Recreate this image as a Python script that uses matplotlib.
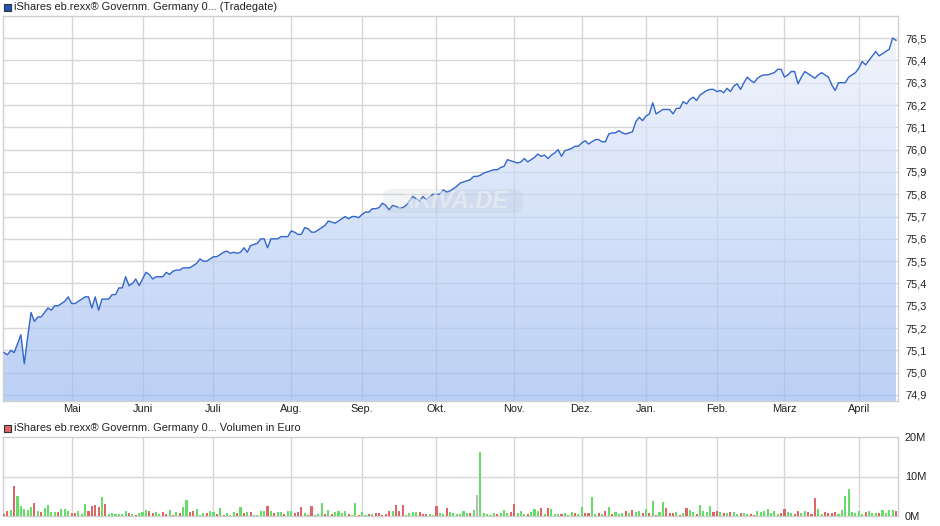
import matplotlib
matplotlib.use("Agg")
import matplotlib.pyplot as plt
import numpy as np
from matplotlib.colors import LinearSegmentedColormap
from matplotlib.patches import Rectangle, FancyBboxPatch

plt.rcParams['font.family'] = ['Liberation Sans', 'DejaVu Sans']

# Kurs (Tradegate), ein Wert pro Handelstag
prices = [
    75.09, 75.08, 75.10, 75.09, 75.13, 75.17, 75.04, 75.16, 75.27, 75.23,
    75.25, 75.25, 75.27, 75.29, 75.28, 75.30, 75.30, 75.31, 75.32, 75.34,
    75.31, 75.31, 75.32, 75.33, 75.34, 75.34, 75.29, 75.34, 75.28, 75.33,
    75.33, 75.33, 75.35, 75.35, 75.38, 75.38, 75.43, 75.39, 75.40, 75.42,
    75.39, 75.42, 75.45, 75.44, 75.42, 75.43, 75.43, 75.43, 75.45,
    75.44, 75.455, 75.46, 75.46, 75.47, 75.47, 75.47, 75.48, 75.49, 75.51,
    75.50, 75.50, 75.51, 75.52, 75.52, 75.53, 75.54, 75.545, 75.535, 75.54,
    75.535, 75.54, 75.56, 75.54, 75.57, 75.575, 75.58, 75.60, 75.60, 75.56,
    75.60, 75.60, 75.60, 75.61, 75.61, 75.61, 75.635, 75.63, 75.62, 75.62,
    75.65, 75.645, 75.63, 75.63, 75.64, 75.65, 75.66, 75.68, 75.675, 75.67,
    75.68, 75.69, 75.70, 75.69, 75.70, 75.70, 75.695, 75.71, 75.72, 75.72,
    75.735, 75.735, 75.74, 75.76, 75.75, 75.73, 75.75, 75.745, 75.74, 75.74,
    75.75, 75.77, 75.79, 75.78, 75.77, 75.79, 75.775, 75.79, 75.80, 75.80,
    75.80, 75.82, 75.81, 75.815, 75.825, 75.835, 75.85, 75.855, 75.86, 75.865,
    75.88, 75.88, 75.885, 75.895, 75.90, 75.905, 75.91, 75.91, 75.92, 75.925,
    75.955, 75.95, 75.945, 75.94, 75.945, 75.96, 75.945, 75.955, 75.965, 75.98,
    75.97, 75.975, 75.96, 75.975, 75.985, 76.00, 75.97, 75.995, 76.00, 76.005,
    76.015, 76.015, 76.03, 76.04, 76.025, 76.035, 76.045, 76.045, 76.035, 76.035,
    76.07, 76.075, 76.075, 76.085, 76.075, 76.07, 76.075, 76.08, 76.125,
    76.145, 76.13, 76.15, 76.16, 76.21, 76.16, 76.17, 76.18, 76.18, 76.18,
    76.16, 76.185, 76.185, 76.215, 76.205, 76.225, 76.235, 76.22, 76.245, 76.255,
    76.265, 76.27, 76.27, 76.26, 76.265, 76.255, 76.275, 76.26, 76.285, 76.295,
    76.27, 76.30, 76.325, 76.31, 76.30, 76.32, 76.33, 76.335, 76.335, 76.34,
    76.345, 76.36, 76.36, 76.325, 76.335, 76.35, 76.35, 76.295, 76.325, 76.35,
    76.34, 76.33, 76.32, 76.335, 76.345, 76.335, 76.325, 76.29, 76.265, 76.30,
    76.30, 76.30, 76.325, 76.335, 76.345, 76.365, 76.395, 76.38, 76.40, 76.42,
    76.44, 76.42, 76.43, 76.44, 76.45, 76.50, 76.49,
]

# Volumen in Mio. Euro
volume = [
    0.5, 1.3, 1.5, 7.7, 5.1, 2.5, 1.8, 1.5, 2.3, 3.3,
    1.3, 1.1, 2.0, 2.8, 1.1, 1.1, 1.1, 1.8, 1.8, 1.3,
    0.8, 0.8, 1.3, 0.6, 3.0, 1.3, 2.6, 2.8, 2.3, 4.8,
    3.0, 0.5, 0.8, 0.6, 0.6, 0.6, 1.3, 0.8, 0.6, 0.3,
    0.8, 1.0, 1.5, 1.3, 0.8, 1.0, 0.6, 1.0, 0.6, 1.5,
    0.3, 1.0, 0.8, 2.3, 4.1, 1.0, 1.3, 1.8, 0.3, 0.8,
    0.8, 1.3, 1.0, 0.6, 2.0, 0.3, 0.8, 0.3, 1.0, 0.8,
    2.3, 0.8, 1.0, 1.0, 0.3, 0.3, 1.3, 1.3, 2.5, 1.3,
    0.8, 1.0, 1.0, 0.6, 1.3, 1.3, 0.8, 1.0, 2.3, 0.8,
    0.3, 2.5, 0.3, 0.6, 3.3, 0.6, 1.5, 0.6, 1.0, 1.3,
    0.8, 1.3, 0.6, 0.3, 3.3, 0.3, 1.0, 0.3, 0.6, 0.6,
    0.8, 0.8, 0.3, 0.6, 1.3, 1.3, 2.8, 1.3, 2.8, 0.3,
    0.8, 1.0, 1.0, 1.0, 0.6, 0.6, 0.6, 0.3, 2.5, 0.8,
    0.6, 2.0, 1.0, 0.8, 0.6, 0.6, 1.3, 0.8, 0.8,
    1.5, 5.3, 16.3, 0.8, 0.6, 0.3, 0.8, 0.6, 0.8, 1.5,
    0.8, 1.0, 3.0, 0.8, 1.3, 0.6, 0.6, 1.0, 1.8, 1.3,
    2.0, 0.6, 2.0, 1.8, 0.6, 0.6, 0.6, 0.8, 0.3, 1.0,
    0.8, 0.6, 2.3, 0.8, 0.8, 4.8, 0.6, 0.8, 0.6, 1.3,
    2.3, 0.6, 1.0, 0.6, 0.8, 1.3, 0.8, 1.5, 1.0, 1.3,
    0.8, 1.8, 0.8, 3.8, 0.3, 1.0, 3.6, 2.0, 0.8, 0.8,
    1.0, 0.3, 0.8, 2.0, 1.5, 1.0, 0.6, 2.8, 1.3, 1.0,
    2.5, 1.0, 1.3, 1.0, 0.8, 0.8, 1.0, 1.0, 0.6, 0.8,
    0.8, 0.6, 0.6, 0.3, 1.3, 1.0, 1.3, 1.8, 0.8, 1.3,
    0.6, 0.8, 1.8, 1.0, 0.8, 0.6, 1.3, 0.8, 1.3, 1.0,
    0.6, 4.6, 1.8, 0.6, 1.0, 0.8, 0.8, 1.0, 0.6, 1.5,
    5.1, 6.9, 1.0, 0.8, 1.3, 0.6, 1.0, 1.3, 0.8, 0.8,
    0.8, 1.5, 0.8, 1.5, 1.5, 1.3,
]
# g = steigend, r = fallend, n = unverändert
dir_codes = [
    'r', 'r', 'g', 'r', 'g', 'g', 'g', 'g', 'g', 'r',
    'g', 'r', 'g', 'g', 'g', 'g', 'r', 'g', 'g', 'g',
    'r', 'r', 'g', 'g', 'g', 'r', 'r', 'r', 'r', 'g',
    'r', 'g', 'g', 'g', 'g', 'g', 'g', 'r', 'g', 'r',
    'g', 'g', 'g', 'r', 'r', 'g', 'g', 'r', 'r', 'g',
    'r', 'g', 'r', 'g', 'g', 'r', 'r', 'g', 'g', 'g',
    'r', 'g', 'g', 'r', 'g', 'r', 'g', 'g', 'g', 'r',
    'g', 'r', 'g', 'r', 'g', 'g', 'g', 'g', 'r', 'g',
    'r', 'g', 'g', 'r', 'g', 'g', 'r', 'r', 'r', 'g',
    'r', 'r', 'g', 'g', 'g', 'r', 'g', 'r', 'g', 'g',
    'g', 'g', 'r', 'g', 'g', 'r', 'g', 'g', 'r', 'g',
    'r', 'r', 'r', 'r', 'r', 'g', 'r', 'r', 'r', 'g',
    'g', 'g', 'g', 'r', 'r', 'r', 'g', 'g', 'r', 'g',
    'g', 'r', 'g', 'g', 'g', 'g', 'g', 'g', 'r',
    'g', 'n', 'g', 'g', 'g', 'g', 'g', 'r', 'g', 'g',
    'g', 'r', 'r', 'g', 'g', 'g', 'r', 'g', 'g', 'g',
    'r', 'g', 'r', 'g', 'g', 'g', 'r', 'g', 'g', 'g',
    'r', 'g', 'g', 'r', 'r', 'g', 'g', 'r', 'g', 'r',
    'g', 'r', 'g', 'g', 'g', 'r', 'g', 'r', 'g', 'g',
    'r', 'g', 'r', 'g', 'r', 'g', 'g', 'r', 'r', 'r',
    'g', 'r', 'g', 'r', 'g', 'g', 'r', 'g', 'g', 'g',
    'g', 'r', 'r', 'g', 'r', 'g', 'r', 'g', 'g', 'r',
    'g', 'g', 'r', 'r', 'g', 'g', 'g', 'g', 'g', 'g',
    'g', 'r', 'r', 'g', 'g', 'r', 'r', 'g', 'g', 'r',
    'r', 'r', 'g', 'g', 'r', 'r', 'r', 'r', 'g', 'g',
    'g', 'g', 'g', 'g', 'g', 'g', 'r', 'g', 'g', 'g',
    'r', 'g', 'g', 'g', 'g', 'r',
]

# erster Handelstag jedes Monats (Index)
month_idx = [20, 41, 62, 85, 106, 128, 151, 171, 190, 211, 231, 253]
month_labels = ["Mai", "Juni", "Juli", "Aug.", "Sep.", "Okt.", "Nov.",
                "Dez.", "Jan.", "Feb.", "März", "April"]
price_ticks = [74.9, 75.0, 75.1, 75.2, 75.3, 75.4, 75.5, 75.6, 75.7, 75.8,
               75.9, 76.0, 76.1, 76.2, 76.3, 76.4, 76.5]
vol_ticks = [0, 10, 20]

title_price = "iShares eb.rexx\u00ae Governm. Germany 0... (Tradegate)"
title_vol = "iShares eb.rexx\u00ae Governm. Germany 0... Volumen in Euro"

GRID = '#d6d6d6'
FRAME = '#cfcfcf'
FS = 7.9

x = np.arange(len(prices))
xlim = (-0.3, len(prices) - 1 + 0.6)

fig = plt.figure(figsize=(9.4, 5.26), dpi=100)
ax = fig.add_axes([3/940, 1 - 401/526, 895/940, 385/526])
axv = fig.add_axes([3/940, 1 - 516/526, 895/940, 79/526])

# --- Kurs ---
ymin, ymax = 74.873, 76.599
ax.set_xlim(*xlim)
ax.set_ylim(ymin, ymax)

for t in price_ticks:
    ax.axhline(t, color=GRID, lw=1, zorder=1)
for m in month_idx:
    ax.axvline(m, color=GRID, lw=1, zorder=1)

# Farbverlauf unter der Kurslinie
cmap = LinearSegmentedColormap.from_list("fill", ["#9ebcf1", "#eff3fc"])
grad = np.linspace(0, 1, 256).reshape(-1, 1)
im = ax.imshow(grad, extent=[xlim[0], xlim[1], ymin, ymax], origin='lower',
               aspect='auto', cmap=cmap, alpha=0.7, zorder=2)
poly = ax.fill_between(x, prices, ymin, color='none', lw=0)
im.set_clip_path(poly.get_paths()[0], transform=ax.transData)

ax.plot(x, prices, color='#3366cc', lw=1.0, zorder=4)

ax.set_yticks(price_ticks)
ax.set_yticklabels([f"{t:.1f}".replace('.', ',') for t in price_ticks])
ax.yaxis.tick_right()
ax.set_xticks(month_idx)
ax.set_xticklabels(month_labels)
ax.tick_params(length=0, labelsize=FS, colors='#222222')
ax.tick_params(axis='y', pad=5)
ax.tick_params(axis='x', pad=2.5)
for s in ax.spines.values():
    s.set_color(FRAME)
    s.set_linewidth(1)

# Wasserzeichen
wm = FancyBboxPatch((383/940, 1 - 213/526), 140/940, 24/526,
                    boxstyle="round,pad=0,rounding_size=0.012",
                    transform=fig.transFigure, facecolor='#9aa4b4',
                    edgecolor='none', alpha=0.12, zorder=5)
fig.patches.append(wm)
fig.text(453/940, 1 - 201/526, "ARIVA.DE", ha='center', va='center',
         fontsize=17, fontweight='bold', style='italic', color='white',
         alpha=0.55)

# --- Volumen ---
colors = {'g': '#66dd66', 'r': '#dd6666', 'n': '#bbbbbb'}
axv.set_xlim(*xlim)
axv.set_ylim(0, 20)
axv.axhline(10, color=GRID, lw=1, zorder=1)
for m in month_idx:
    axv.axvline(m, color=GRID, lw=1, zorder=1)
axv.bar(x, volume, width=0.62, color=[colors[c] for c in dir_codes], zorder=3)
axv.set_yticks(vol_ticks)
axv.set_yticklabels([f"{t}M" for t in vol_ticks])
axv.yaxis.tick_right()
axv.set_xticks([])
axv.tick_params(length=0, labelsize=FS, colors='#222222', pad=5)
for s in axv.spines.values():
    s.set_color(FRAME)
    s.set_linewidth(1)

# Legenden-Titel
fig.patches.append(Rectangle((4/940, 1 - 11/526), 7/940, 7/526,
                             transform=fig.transFigure, facecolor='#2255bb',
                             edgecolor='#333333', lw=0.8))
fig.text(14/940, 1 - 7/526, title_price, ha='left', va='center',
         fontsize=FS, color='#222222')
fig.patches.append(Rectangle((4/940, 1 - 432/526), 7/940, 7/526,
                             transform=fig.transFigure, facecolor='#dd6666',
                             edgecolor='#333333', lw=0.8))
fig.text(14/940, 1 - 428/526, title_vol, ha='left', va='center',
         fontsize=FS, color='#222222')

fig.savefig("out.png", dpi=100)
